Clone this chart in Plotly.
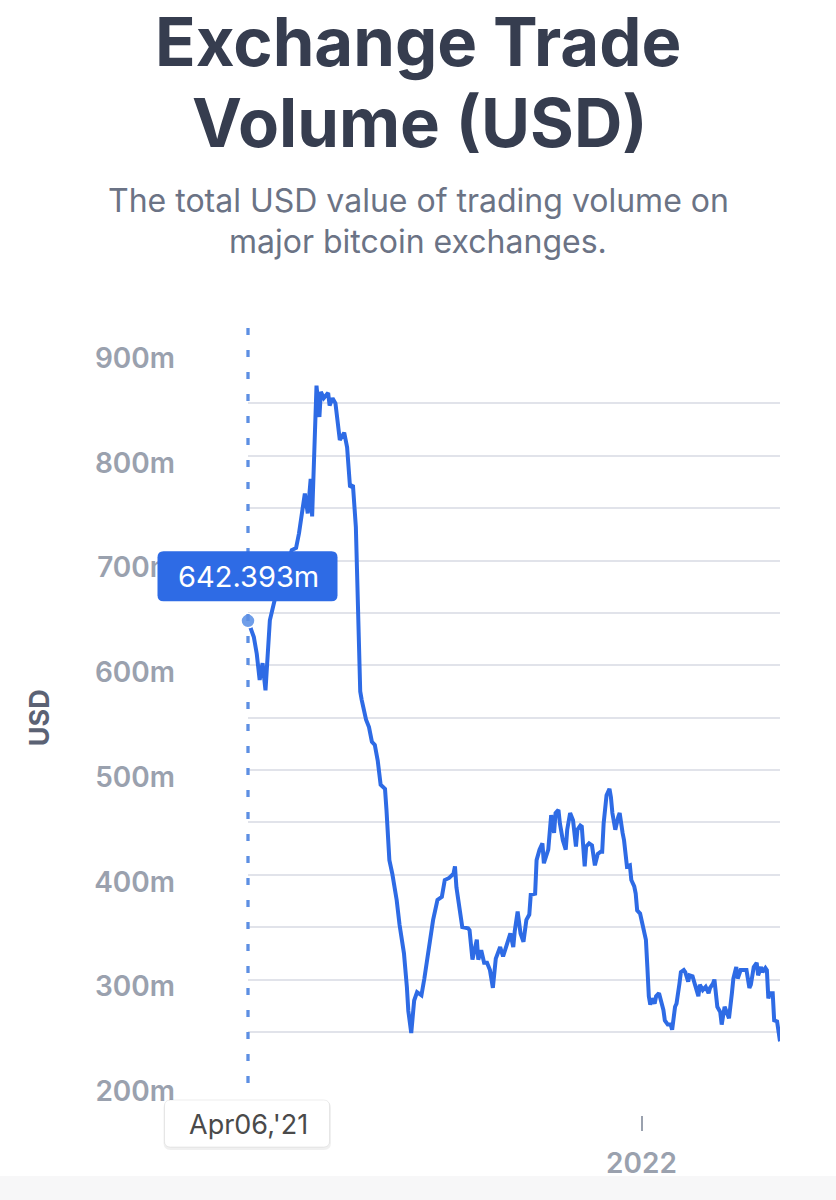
import plotly.graph_objects as go

# ---------------- data (USD, millions) ----------------
dates = [
    "2021-04-06", "2021-04-10", "2021-04-12", "2021-04-14", "2021-04-16", "2021-04-18", "2021-04-21",
    "2021-04-23", "2021-04-25", "2021-04-28", "2021-05-01", "2021-05-04", "2021-05-06", "2021-05-09",
    "2021-05-11", "2021-05-15", "2021-05-17", "2021-05-19", "2021-05-20", "2021-05-22", "2021-05-23",
    "2021-05-25", "2021-05-26", "2021-05-28", "2021-05-31", "2021-06-01", "2021-06-03", "2021-06-05",
    "2021-06-08", "2021-06-11", "2021-06-13", "2021-06-15", "2021-06-17", "2021-06-19", "2021-06-21",
    "2021-06-22", "2021-06-23", "2021-06-26", "2021-06-28", "2021-06-30", "2021-07-02", "2021-07-04",
    "2021-07-06", "2021-07-09", "2021-07-10", "2021-07-12", "2021-07-14", "2021-07-17", "2021-07-19",
    "2021-07-21", "2021-07-22", "2021-07-24", "2021-07-25", "2021-07-27", "2021-07-29", "2021-07-31",
    "2021-08-03", "2021-08-05", "2021-08-08", "2021-08-11", "2021-08-14", "2021-08-17", "2021-08-19",
    "2021-08-22", "2021-08-25", "2021-08-26", "2021-08-27", "2021-08-29", "2021-08-31", "2021-09-04",
    "2021-09-05", "2021-09-07", "2021-09-10", "2021-09-11", "2021-09-13", "2021-09-15", "2021-09-17",
    "2021-09-19", "2021-09-21", "2021-09-23", "2021-09-26", "2021-09-28", "2021-09-30", "2021-10-03",
    "2021-10-05", "2021-10-06", "2021-10-08", "2021-10-10", "2021-10-12", "2021-10-14", "2021-10-16",
    "2021-10-17", "2021-10-20", "2021-10-21", "2021-10-23", "2021-10-25", "2021-10-26", "2021-10-29",
    "2021-10-31", "2021-11-02", "2021-11-03", "2021-11-05", "2021-11-06", "2021-11-08", "2021-11-10",
    "2021-11-11", "2021-11-13", "2021-11-15", "2021-11-17", "2021-11-18", "2021-11-20", "2021-11-21",
    "2021-11-23", "2021-11-24", "2021-11-26", "2021-11-28", "2021-11-30", "2021-12-02", "2021-12-04",
    "2021-12-05", "2021-12-06", "2021-12-08", "2021-12-10", "2021-12-11", "2021-12-12", "2021-12-14",
    "2021-12-16", "2021-12-17", "2021-12-19", "2021-12-20", "2021-12-22", "2021-12-24", "2021-12-25",
    "2021-12-27", "2021-12-28", "2021-12-29", "2021-12-31", "2022-01-02", "2022-01-04", "2022-01-05",
    "2022-01-06", "2022-01-07", "2022-01-08", "2022-01-10", "2022-01-11", "2022-01-13", "2022-01-14",
    "2022-01-16", "2022-01-17", "2022-01-19", "2022-01-21", "2022-01-22", "2022-01-24", "2022-01-25",
    "2022-01-27", "2022-01-28", "2022-01-30", "2022-01-31", "2022-02-02", "2022-02-03", "2022-02-05",
    "2022-02-07", "2022-02-09", "2022-02-10", "2022-02-12", "2022-02-14", "2022-02-16", "2022-02-17",
    "2022-02-19", "2022-02-20", "2022-02-22", "2022-02-24", "2022-02-25", "2022-02-27", "2022-03-01",
    "2022-03-02", "2022-03-04", "2022-03-05", "2022-03-07", "2022-03-08", "2022-03-10", "2022-03-12",
    "2022-03-14", "2022-03-16", "2022-03-17", "2022-03-19", "2022-03-21", "2022-03-22", "2022-03-24",
    "2022-03-25", "2022-03-27", "2022-03-28", "2022-03-29", "2022-03-30", "2022-04-01", "2022-04-02",
    "2022-04-04", "2022-04-06",
]
volume_musd = [
    642.393, 627, 611, 586, 602, 576, 643,
    655, 664, 684, 692, 700, 710, 712,
    726, 764, 745, 778, 742, 834, 867,
    837, 861, 855, 860, 848, 855, 850,
    815, 822, 808, 770, 772, 732, 640,
    575, 567, 548, 541, 527, 524, 509,
    486, 482, 462, 414, 401, 376, 352,
    331, 325, 293, 270, 249, 280, 288,
    285, 301, 331, 357, 376, 379, 395,
    397, 401, 408, 388, 366, 350, 349,
    347, 319, 338, 319, 328, 316, 316,
    309, 292, 320, 331, 322, 330, 344,
    331, 346, 365, 344, 336, 357, 362,
    381, 382, 414, 424, 430, 411, 424,
    457, 440, 459, 462, 449, 433, 424,
    443, 459, 452, 427, 443, 447, 446,
    408, 427, 430, 428, 409, 420, 422,
    422, 449, 476, 482, 474, 459, 443,
    455, 459, 440, 433, 408, 409, 395,
    389, 382, 366, 363, 350, 338, 312,
    284, 276, 282, 277, 284, 287, 282,
    271, 261, 257, 257, 252, 274, 277,
    296, 307, 309, 307, 298, 304, 303,
    293, 284, 295, 290, 293, 287, 292,
    296, 300, 274, 269, 257, 274, 265,
    263, 287, 301, 312, 301, 309, 309,
    309, 292, 295, 312, 316, 304, 312,
    307, 311, 309, 282, 287, 287, 261,
    260, 241,
]
x_range = ["2021-04-06", "2022-04-06"]
y_range = [200, 900]
x_tick_vals = ["2022-01-01"]
x_tick_text = ["2022"]
hover_label = "642.393m"
hover_date_label = "Apr06,'21"

title_lines = ["Exchange Trade", "Volume (USD)"]
subtitle_lines = ["The total USD value of trading volume on", "major bitcoin exchanges."]
y_title = "USD"

# ---------------- layout geometry ----------------
W, H = 836, 1200
ML, MR, MT, MB = 248, 56, 351, 85
PLOT_H = H - MT - MB
Y_BOTTOM_PX = 1084.3
y_dom0 = (H - MB - Y_BOTTOM_PX) / PLOT_H
PLOT_W = W - ML - MR


def py(px):  # page pixel -> paper y
    return (H - MB - px) / PLOT_H


def px_x(px):  # page pixel -> paper x
    return (px - ML) / PLOT_W


def rrect(x0, y0, x1, y1, r):
    return (f"M{x0 + r},{y0} L{x1 - r},{y0} Q{x1},{y0} {x1},{y0 + r} "
            f"L{x1},{y1 - r} Q{x1},{y1} {x1 - r},{y1} L{x0 + r},{y1} "
            f"Q{x0},{y1} {x0},{y1 - r} L{x0},{y0 + r} Q{x0},{y0} {x0 + r},{y0} Z")


FONT = "Inter, 'Noto Sans', sans-serif"
BLUE = "#2e6be5"
GRID = "#e1e3ea"
LABEL = "#9aa1ae"

fig = go.Figure()
fig.add_trace(go.Scatter(
    x=dates, y=volume_musd, mode="lines",
    line=dict(color=BLUE, width=4), hoverinfo="skip", showlegend=False,
))
fig.add_trace(go.Scatter(
    x=[dates[0]], y=[volume_musd[0]], mode="markers", cliponaxis=False,
    marker=dict(size=14, color="#6f9ee9", line=dict(color="white", width=1.5)),
    hoverinfo="skip", showlegend=False,
))

shapes = [
    # footer band
    dict(type="rect", xref="paper", yref="paper", x0=px_x(-5), x1=px_x(W + 5),
         y0=py(1176), y1=py(H + 5), fillcolor="#f7f7f8", line=dict(width=0), layer="below"),
    # hover spike line
    dict(type="line", xref="paper", yref="paper", x0=0, x1=0, y0=py(1083), y1=py(327),
         line=dict(color="#5d8fe3", width=3.3, dash="7px,15px"), layer="above"),
    # tooltip box
    dict(type="path", xref="paper", yref="y", xsizemode="pixel", ysizemode="pixel",
         xanchor=0, yanchor=volume_musd[0],
         path=rrect(-90.5, 19.7, 89.5, 69.7, 6),
         fillcolor=BLUE, line=dict(width=0), layer="above"),
    # date box shadow
    dict(type="path", xref="paper", yref="paper", xsizemode="pixel", ysizemode="pixel",
         xanchor=0, yanchor=0, path=rrect(-84.5, -35, 83, 14, 7),
         fillcolor="rgba(0,0,0,0.06)", line=dict(width=0), layer="above"),
    # date box
    dict(type="path", xref="paper", yref="paper", xsizemode="pixel", ysizemode="pixel",
         xanchor=0, yanchor=0, path=rrect(-83.5, -32, 81.5, 15, 6),
         fillcolor="white", line=dict(color="rgba(0,0,0,0.07)", width=1), layer="above"),
]

annotations = [
    dict(text=f"<b>{title_lines[0]}</b>", x=px_x(418), y=py(41.5)),
    dict(text=f"<b>{title_lines[1]}</b>", x=px_x(420), y=py(122.5)),
]
for a in annotations:
    a.update(xref="paper", yref="paper", xanchor="center", yanchor="middle", showarrow=False,
             font=dict(family=FONT, size=67, color="#363d4f"))
for txt, yc in zip(subtitle_lines, [200.5, 241.5]):
    annotations.append(dict(text=txt, x=px_x(418), y=py(yc), xref="paper", yref="paper",
                            xanchor="center", yanchor="middle", showarrow=False,
                            font=dict(family=FONT, size=32, color="#6b7385")))
annotations.append(dict(text=hover_label, x=dates[0], y=volume_musd[0], xref="x", yref="y",
                        showarrow=False, yshift=44.7, xanchor="center", yanchor="middle",
                        font=dict(family=FONT, size=29, color="white")))
annotations.append(dict(text=hover_date_label, x=dates[0], y=0, xref="x", yref="paper",
                        showarrow=False, yshift=-9, xanchor="center", yanchor="middle",
                        font=dict(family=FONT, size=27, color="#4a4a4a")))

fig.update_layout(
    width=W, height=H,
    margin=dict(l=ML, r=MR, t=MT, b=MB, pad=0),
    paper_bgcolor="white", plot_bgcolor="white",
    font=dict(family=FONT),
    showlegend=False,
    hovermode=False,
    shapes=shapes,
    annotations=annotations,
    xaxis=dict(
        range=x_range, type="date", anchor="free", position=0,
        showgrid=False, zeroline=False, showline=False,
        tickmode="array", tickvals=x_tick_vals, ticktext=x_tick_text,
        ticks="outside", ticklen=15, tickwidth=2, tickcolor=LABEL,
        ticklabelstandoff=8,
        tickfont=dict(family=FONT, size=28, color=LABEL, weight=600),
    ),
    yaxis=dict(
        range=y_range, domain=[y_dom0, 1],
        tick0=200, dtick=100, ticksuffix="m",
        showgrid=True, gridcolor=GRID, gridwidth=1.5,
        minor=dict(dtick=50, tick0=200, showgrid=True, gridcolor=GRID, gridwidth=1.5),
        zeroline=False, showline=False, ticks="",
        ticklabelstandoff=72, ticklabelshift=7,
        tickfont=dict(family=FONT, size=28, color=LABEL, weight=600),
        title=dict(text=y_title, standoff=36,
                   font=dict(family=FONT, size=27, color="#5b6274", weight=700)),
    ),
)

fig.write_html("out.html", config={"displayModeBar": False})
